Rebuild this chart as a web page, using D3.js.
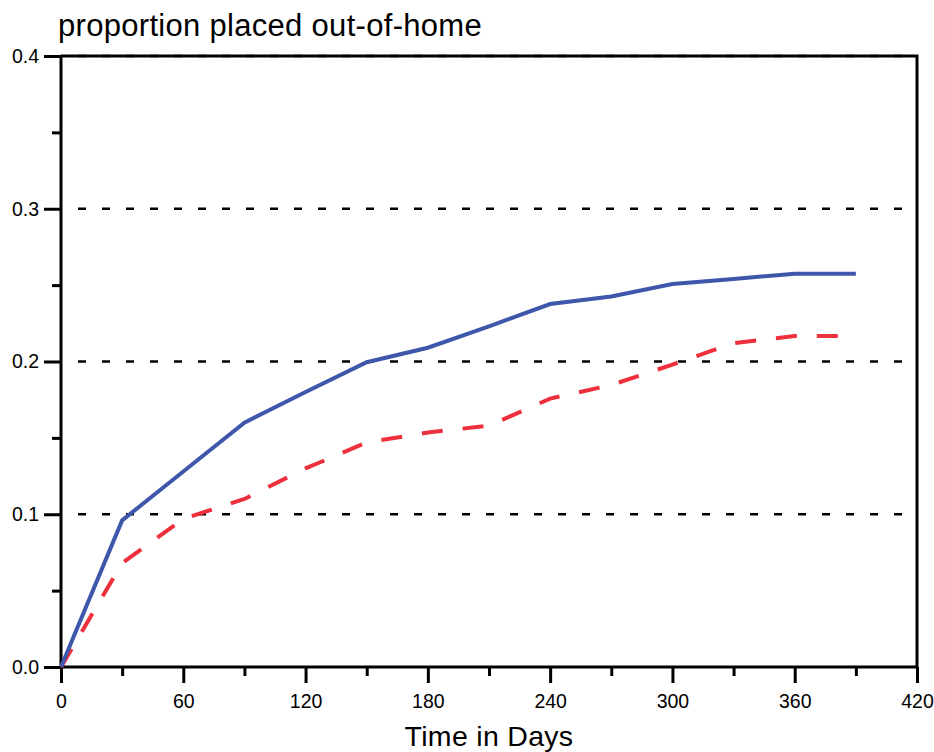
<!DOCTYPE html>
<html lang="en">
<head>
  <meta charset="UTF-8" />
  <title>proportion placed out-of-home</title>
  <script src="https://d3js.org/d3.v7.min.js"></script>
  <style>
    body {
      margin: 0;
      background: white;
      font-family: "Liberation Sans", Arial, sans-serif;
    }
    svg { display: block; }
    .tick text { font-family: "Liberation Sans", Arial, sans-serif; }
  </style>
</head>
<body>
  <svg width="934" height="752"></svg>

  <script>
    // data
    const days = [0, 30, 60, 90, 120, 150, 180, 210, 240, 270, 300, 330, 360, 390];
    const solidSeries = [0, 0.096, 0.128, 0.160, 0.180, 0.1995, 0.209, 0.223, 0.2376, 0.2425, 0.2507, 0.254, 0.2575, 0.2575];
    const dashedSeries = [0, 0.068, 0.097, 0.110, 0.130, 0.147, 0.1535, 0.158, 0.1757, 0.1846, 0.198, 0.212, 0.2167, 0.2167];
    const xTicks = [0, 60, 120, 180, 240, 300, 360, 420];
    const xMinorTicks = [30, 90, 150, 210, 270, 330, 390];
    const yTicks = [0, 0.1, 0.2, 0.3, 0.4];
    const yMinorTicks = [0.05, 0.15, 0.25, 0.35];
    const gridValues = [0.1, 0.2, 0.3, 0.4];

    const svg = d3.select("svg");
    const margin = { left: 61, top: 56, right: 17, bottom: 85 };
    const width = 934 - margin.left - margin.right;
    const height = 752 - margin.top - margin.bottom;

    const g = svg.append("g")
      .attr("transform", `translate(${margin.left},${margin.top})`);

    const x = d3.scaleLinear().domain([0, 420]).range([0, width]);
    const y = d3.scaleLinear().domain([0, 0.4]).range([height, 0]);

    // frame (top and right)
    g.append("path")
      .attr("d", `M0,0H${width}V${height}`)
      .attr("fill", "none")
      .attr("stroke", "black")
      .attr("stroke-width", 3);

    // dashed grid
    g.selectAll(".grid")
      .data(gridValues)
      .enter()
      .append("line")
      .attr("class", "grid")
      .attr("x1", 0)
      .attr("x2", width)
      .attr("y1", d => y(d))
      .attr("y2", d => y(d))
      .attr("stroke", "black")
      .attr("stroke-width", 2.5)
      .attr("stroke-dasharray", "8,16")
      .attr("stroke-dashoffset", -17);

    // axes
    const styleAxis = sel => {
      sel.selectAll(".domain").remove();
      sel.selectAll("line").attr("stroke", "black").attr("stroke-width", 3);
      sel.selectAll("text").attr("fill", "black").style("font-size", "19.5px");
    };

    g.append("g")
      .attr("transform", `translate(0,${height})`)
      .call(d3.axisBottom(x).tickValues(xTicks).tickSize(16).tickPadding(11).tickFormat(d3.format("d")))
      .call(styleAxis);

    g.append("g")
      .attr("transform", `translate(0,${height})`)
      .call(d3.axisBottom(x).tickValues(xMinorTicks).tickSize(9).tickFormat(""))
      .call(styleAxis);

    g.append("g")
      .call(d3.axisLeft(y).tickValues(yTicks).tickSize(17).tickPadding(5).tickFormat(d3.format(".1f")))
      .call(styleAxis);

    g.append("g")
      .call(d3.axisLeft(y).tickValues(yMinorTicks).tickSize(9).tickFormat(""))
      .call(styleAxis);

    // axis lines
    g.append("line")
      .attr("x1", 0).attr("x2", width)
      .attr("y1", height).attr("y2", height)
      .attr("stroke", "black").attr("stroke-width", 3);
    g.append("line")
      .attr("x1", 0).attr("x2", 0)
      .attr("y1", 0).attr("y2", height)
      .attr("stroke", "black").attr("stroke-width", 3);

    // lines
    const line = d3.line()
      .x((d, i) => x(days[i]))
      .y(d => y(d));

    g.append("path")
      .datum(dashedSeries)
      .attr("d", line)
      .attr("fill", "none")
      .attr("stroke", "#ee2f3c")
      .attr("stroke-width", 4)
      .attr("stroke-dasharray", "21,20");

    g.append("path")
      .datum(solidSeries)
      .attr("d", line)
      .attr("fill", "none")
      .attr("stroke", "#3f57aa")
      .attr("stroke-width", 4);

    // titles
    svg.append("text")
      .attr("x", 58)
      .attr("y", 36)
      .style("font-size", "31px")
      .style("letter-spacing", "0.3px")
      .text("proportion placed out-of-home");

    svg.append("text")
      .attr("x", margin.left + width / 2)
      .attr("y", 746)
      .attr("text-anchor", "middle")
      .style("font-size", "28.5px")
      .style("letter-spacing", "0.3px")
      .text("Time in Days");
  </script>
</body>
</html>
